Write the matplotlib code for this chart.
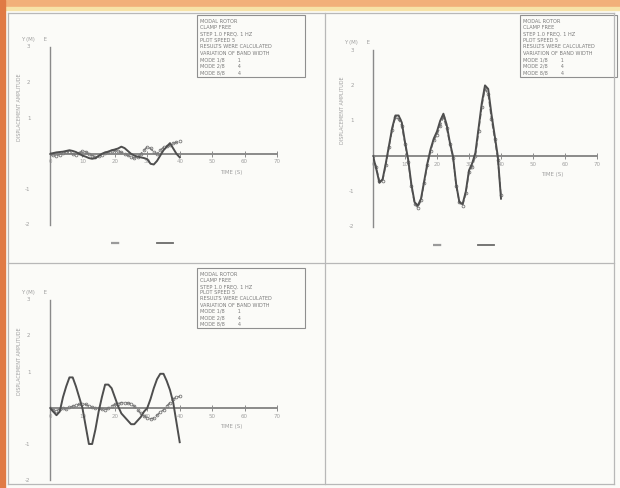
import numpy as np
import matplotlib
matplotlib.use("Agg")
import matplotlib.pyplot as plt
from matplotlib.patches import Rectangle
from matplotlib.lines import Line2D

# time samples (s)
time = [round(0.1 * i, 1) for i in range(41)]

# panel 1: response of the first two modes
p1_solid = [0, 0.02, 0.04, 0.05, 0.06, 0.08, 0.10, 0.08, 0.05, 0.0,
            -0.05, -0.08, -0.12, -0.14, -0.12, -0.06, 0.0, 0.04, 0.06, 0.10,
            0.12, 0.15, 0.20, 0.16, 0.08, 0.0, -0.05, -0.08, -0.10, -0.12,
            -0.15, -0.28, -0.30, -0.20, -0.05, 0.10, 0.20, 0.30, 0.15, 0.0, -0.10]
p1_dashed = [0, -0.03, -0.05, -0.02, 0.02, 0.06, 0.05, 0.0, -0.02, 0.03,
             0.08, 0.06, 0.0, -0.05, -0.08, -0.06, -0.02, 0.02, 0.05, 0.08,
             0.10, 0.08, 0.04, 0.0, -0.04, -0.10, -0.12, -0.08, 0.0, 0.10,
             0.20, 0.15, 0.05, 0.0, 0.10, 0.18, 0.22, 0.25, 0.30, 0.32, 0.35]

# panel 2
p2_solid = [0, -0.35, -0.75, -0.65, -0.2, 0.3, 0.8, 1.15, 1.15, 0.95,
            0.4, -0.1, -0.8, -1.3, -1.4, -1.2, -0.7, -0.2, 0.2, 0.5,
            0.7, 1.0, 1.2, 0.9, 0.4, 0.0, -0.8, -1.3, -1.35, -1.0,
            -0.4, -0.2, 0.1, 0.8, 1.5, 2.0, 1.9, 1.2, 0.6, 0.0, -1.2]
p2_dashed = [0, -0.3, -0.7, -0.7, -0.25, 0.25, 0.75, 1.1, 1.05, 0.85,
             0.35, -0.15, -0.85, -1.35, -1.45, -1.25, -0.75, -0.25, 0.15, 0.45,
             0.6, 0.85, 1.1, 0.8, 0.35, -0.05, -0.85, -1.3, -1.4, -1.05,
             -0.45, -0.3, 0.0, 0.7, 1.4, 1.9, 1.75, 1.05, 0.5, -0.1, -1.1]

# panel 3
p3_solid = [0, -0.1, -0.2, -0.1, 0.3, 0.6, 0.85, 0.85, 0.6, 0.3,
            0.0, -0.5, -1.0, -1.0, -0.6, -0.1, 0.3, 0.65, 0.65, 0.55,
            0.3, 0.05, -0.15, -0.25, -0.35, -0.45, -0.45, -0.35, -0.25, -0.1,
            0.0, 0.25, 0.55, 0.8, 0.95, 0.95, 0.75, 0.5, 0.15, -0.4, -0.95]
p3_dashed = [0, -0.05, -0.08, -0.02, 0.0, -0.03, 0.02, 0.05, 0.08, 0.10,
             0.12, 0.10, 0.05, 0.02, 0.0, 0.0, -0.03, -0.05, 0.0, 0.05,
             0.10, 0.12, 0.15, 0.15, 0.14, 0.12, 0.05, -0.05, -0.15, -0.22,
             -0.28, -0.30, -0.28, -0.20, -0.12, -0.05, 0.05, 0.15, 0.25, 0.30, 0.32]

x_ticks = [0, 1, 2, 3, 4, 5, 6, 7]
x_tick_labels = ["0", "10", "20", "30", "40", "50", "60", "70"]
y_ticks = [-2, -1, 0, 1, 2, 3]
y_tick_labels = ["-2", "-1", "0", "1", "2", "3"]

info_lines = ["MODAL ROTOR",
              "CLAMP FREE",
              "STEP 1.0 FREQ. 1 HZ",
              "PLOT SPEED 5",
              "RESULTS WERE CALCULATED",
              "VARIATION OF BAND WIDTH",
              "MODE 1/8        1",
              "MODE 2/8        4",
              "MODE 8/8        4"]

W, H = 620, 488
fig = plt.figure(figsize=(W / 100, H / 100), dpi=100)
fig.patch.set_facecolor("#fbfbf8")

def fx(px):
    return px / W

def fy(py):
    return 1 - py / H

# paper edges
fig.add_artist(Rectangle((0, fy(7)), 1, 7 / H, transform=fig.transFigure,
                         color="#f2b07a", zorder=0))
fig.add_artist(Rectangle((0, fy(10)), 1, 3 / H, transform=fig.transFigure,
                         color="#f7e3a8", zorder=0))
fig.add_artist(Rectangle((0, 0), 5 / W, 1, transform=fig.transFigure,
                         color="#e07a45", zorder=0))
frame = dict(transform=fig.transFigure, color="#b8b8b8", lw=0.9)
fig.add_artist(Line2D([fx(8), fx(614)], [fy(13), fy(13)], **frame))
fig.add_artist(Line2D([fx(8), fx(8)], [fy(13), fy(484)], **frame))
fig.add_artist(Line2D([fx(614), fx(614)], [fy(13), fy(484)], **frame))
fig.add_artist(Line2D([fx(8), fx(614)], [fy(484), fy(484)], **frame))
fig.add_artist(Line2D([fx(8), fx(614)], [fy(263), fy(263)], **frame))
fig.add_artist(Line2D([fx(325), fx(325)], [fy(13), fy(484)], **frame))

AX = "#8a8a8a"
TXT = "#a0a0a0"

def panel(left, top, right, bottom, solid, dashed, box, legend=True, xlabel=True):
    ax = fig.add_axes([fx(left), fy(bottom), fx(right - left), (bottom - top) / H])
    ax.set_xlim(0, 7)
    ax.set_ylim(-2, 3)
    ax.patch.set_alpha(0)
    for s in ("top", "right"):
        ax.spines[s].set_visible(False)
    ax.spines["bottom"].set_position(("data", 0))
    ax.spines["left"].set_position(("data", 0))
    ax.spines["bottom"].set_color(AX)
    ax.spines["left"].set_color(AX)
    ax.spines["bottom"].set_linewidth(1.4)
    ax.spines["left"].set_linewidth(1.0)
    ax.set_xticks(x_ticks)
    ax.set_xticklabels(x_tick_labels)
    ax.set_yticks([])
    ax.tick_params(axis="x", direction="inout", length=4, width=0.7, color=AX,
                   labelsize=4, labelcolor=TXT, pad=2)
    for v, lab in zip(y_ticks, y_tick_labels):
        if v != 0:
            ax.text(-0.6, v, lab, fontsize=4, color=TXT, ha="right", va="center")
    ax.text(-0.9, 3.15, "Y (M)     E", fontsize=4, color=TXT, ha="left", va="bottom")
    ax.text(-0.95, 1.3, "DISPLACEMENT AMPLITUDE", fontsize=3.5, color=TXT,
            rotation=90, ha="center", va="center")
    if xlabel:
        ax.text(5.6, -0.45, "TIME (S)", fontsize=4, color=TXT, ha="center", va="top")

    ax.plot(time, dashed, color="#7a7a7a", lw=1.0, ls="--", marker="o",
            ms=2.0, mfc="none", mew=0.6, zorder=3)
    ax.plot(time, solid, color="#4e4e4e", lw=1.4, zorder=4)

    if legend:
        ax.plot([0.27, 0.31], [-0.10, -0.10], transform=ax.transAxes, clip_on=False,
                color="#9a9a9a", lw=1.6, ls="--")
        ax.plot([0.47, 0.54], [-0.10, -0.10], transform=ax.transAxes, clip_on=False,
                color="#6a6a6a", lw=1.3)

    bl, bt, br, bb = box
    fig.add_artist(Rectangle((fx(bl), fy(bb)), fx(br - bl), (bb - bt) / H,
                             transform=fig.transFigure, fill=False,
                             edgecolor="#8f8f8f", lw=0.8))
    step = (bb - bt - 4) / len(info_lines)
    for i, line in enumerate(info_lines):
        fig.text(fx(bl + 3), fy(bt + 3 + step * (i + 0.5)), line, fontsize=3.6,
                 color="#7a7a7a", ha="left", va="center")
    return ax

panel(50, 47, 277, 225, p1_solid, p1_dashed, (197, 15, 305, 77))
panel(373, 50, 597, 227, p2_solid, p2_dashed, (520, 15, 617, 77))
panel(50, 300, 277, 480, p3_solid, p3_dashed, (197, 268, 305, 328), legend=False)

fig.savefig("out.png", dpi=100, facecolor=fig.get_facecolor())
